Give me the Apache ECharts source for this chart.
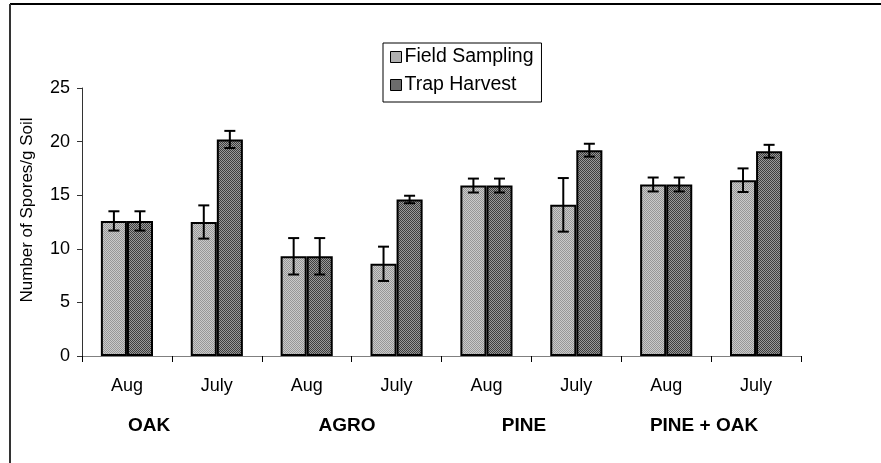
<!DOCTYPE html>
<html>
<head>
<meta charset="utf-8">
<script src="https://cdn.jsdelivr.net/npm/echarts@6/dist/echarts.min.js"></script>
<style>
html,body{margin:0;padding:0;background:#fff;}
#chart{width:881px;height:463px;}
</style>
</head>
<body>
<div id="chart"></div>
<script>
// ---- data ----
const months = ['Aug', 'July', 'Aug', 'July', 'Aug', 'July', 'Aug', 'July'];
const groups = ['OAK', 'AGRO', 'PINE', 'PINE + OAK'];
const fieldSampling = [12.6, 12.5, 9.3, 8.6, 15.9, 14.1, 16.0, 16.4];
const fieldErr      = [0.9, 1.55, 1.7, 1.6, 0.65, 2.5, 0.65, 1.1];
const trapHarvest   = [12.6, 20.2, 9.3, 14.6, 15.9, 19.2, 16.0, 19.1];
const trapErr       = [0.9, 0.8, 1.7, 0.35, 0.65, 0.6, 0.65, 0.6];
const yTicks = [0, 5, 10, 15, 20, 25];

function makePattern(c1, c2) {
  const cv = document.createElement('canvas');
  cv.width = 2; cv.height = 2;
  const ctx = cv.getContext('2d');
  ctx.fillStyle = c1; ctx.fillRect(0, 0, 2, 2);
  ctx.fillStyle = c2; ctx.fillRect(0, 0, 1, 1); ctx.fillRect(1, 1, 1, 1);
  return cv;
}
const fieldFill = { image: makePattern('#cacaca', '#979797'), repeat: 'repeat' };
const trapFill = { image: makePattern('#9a9a9a', '#3e3e3e'), repeat: 'repeat' };

const chart = echarts.init(document.getElementById('chart'), null, { renderer: 'canvas' });
const FONT = 'Liberation Sans, Arial, sans-serif';
const catGap = 0.42;

function errSeries(name, vals, errs, side) {
  return {
    type: 'custom',
    name: name,
    silent: true,
    z: 10,
    data: vals.map((v, i) => [i, v, errs[i]]),
    renderItem: function (params, api) {
      const i = api.value(0), v = api.value(1), e = api.value(2);
      const band = api.size([1, 0])[0];
      const off = side * band * (1 - catGap) / 4;
      const t = api.coord([i, v + e]);
      const b = api.coord([i, v - e]);
      const x = t[0] + off;
      const cap = 5.5;
      const st = { stroke: '#000', lineWidth: 2 };
      return {
        type: 'group',
        children: [
          { type: 'line', shape: { x1: x, y1: t[1], x2: x, y2: b[1] }, style: st },
          { type: 'line', shape: { x1: x - cap, y1: t[1], x2: x + cap, y2: t[1] }, style: st },
          { type: 'line', shape: { x1: x - cap, y1: b[1], x2: x + cap, y2: b[1] }, style: st }
        ]
      };
    }
  };
}

const groupCenters = [149, 347, 524, 704];

const option = {
  animation: false,
  backgroundColor: '#fff',
  textStyle: { fontFamily: FONT, color: '#000' },
  grid: { left: 82, right: 80, top: 88, bottom: 107, containLabel: false },
  legend: {
    data: ['Field Sampling', 'Trap Harvest'],
    orient: 'vertical',
    left: 383,
    top: 43,
    icon: 'rect',
    itemWidth: 11,
    itemHeight: 11,
    itemGap: 8,
    padding: [4, 8, 7, 7],
    borderColor: '#000',
    borderWidth: 1,
    textStyle: { fontFamily: FONT, fontSize: 19.5, color: '#000', padding: [0, 0, 0, -2] },
    itemStyle: { borderColor: '#000', borderWidth: 1 }
  },
  xAxis: {
    type: 'category',
    data: months,
    axisLine: { lineStyle: { color: '#808080', width: 1 } },
    axisTick: { show: true, length: 6, lineStyle: { color: '#000' } },
    axisLabel: { fontFamily: FONT, fontSize: 18, color: '#000', margin: 21 }
  },
  yAxis: {
    type: 'value',
    min: yTicks[0],
    max: yTicks[yTicks.length - 1],
    interval: 5,
    name: 'Number of Spores/g Soil',
    nameLocation: 'middle',
    nameGap: 46,
    nameTextStyle: { fontFamily: FONT, fontSize: 17, color: '#000', padding: [0, 0, 0, 24] },
    axisLine: { show: true, lineStyle: { color: '#333', width: 1 } },
    axisTick: { show: true, length: 5, lineStyle: { color: '#333' } },
    splitLine: { show: false },
    axisLabel: { fontFamily: FONT, fontSize: 18, color: '#000', margin: 12 }
  },
  series: [
    {
      name: 'Field Sampling',
      type: 'bar',
      data: fieldSampling,
      barGap: '0%',
      barCategoryGap: (catGap * 100) + '%',
      itemStyle: { color: fieldFill, borderColor: '#000', borderWidth: 2 }
    },
    {
      name: 'Trap Harvest',
      type: 'bar',
      data: trapHarvest,
      barGap: '0%',
      barCategoryGap: (catGap * 100) + '%',
      itemStyle: { color: trapFill, borderColor: '#000', borderWidth: 2 }
    },
    errSeries('errField', fieldSampling, fieldErr, -1),
    errSeries('errTrap', trapHarvest, trapErr, 1)
  ],
  graphic: [
    { type: 'line', shape: { x1: 10, y1: 4, x2: 881, y2: 4 }, style: { stroke: '#000', lineWidth: 2 }, silent: true },
    { type: 'line', shape: { x1: 10, y1: 4, x2: 10, y2: 463 }, style: { stroke: '#333', lineWidth: 2 }, silent: true }
  ].concat(groups.map((g, k) => ({
    type: 'text',
    x: groupCenters[k],
    y: 426,
    silent: true,
    style: {
      text: g,
      fontFamily: FONT,
      fontSize: 19,
      fontWeight: 'bold',
      fill: '#000',
      align: 'center',
      verticalAlign: 'middle'
    }
  })))
};
chart.setOption(option);
</script>
</body>
</html>
